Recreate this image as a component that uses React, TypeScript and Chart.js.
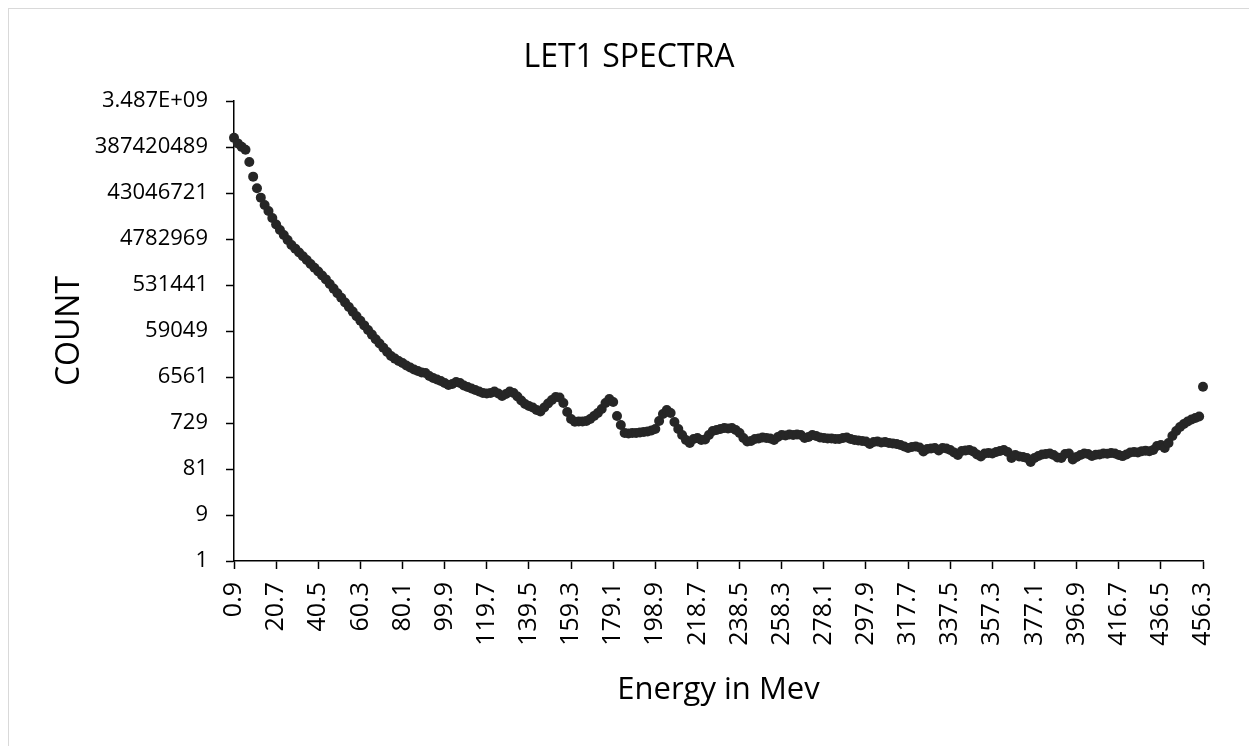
import React, { useEffect, useRef } from 'react';
import { Chart, registerables } from 'chart.js';

Chart.register(...registerables);

const energies = [
  0.9, 2.7, 4.5, 6.3, 8.1, 9.9, 11.7, 13.5, 15.3, 17.1,
  18.9, 20.7, 22.5, 24.3, 26.1, 27.9, 29.7, 31.5, 33.3, 35.1,
  36.9, 38.7, 40.5, 42.3, 44.1, 45.9, 47.7, 49.5, 51.3, 53.1,
  54.9, 56.7, 58.5, 60.3, 62.1, 63.9, 65.7, 67.5, 69.3, 71.1,
  72.9, 74.7, 76.5, 78.3, 80.1, 81.9, 83.7, 85.5, 87.3, 89.1,
  90.9, 92.7, 94.5, 96.3, 98.1, 99.9, 101.7, 103.5, 105.3, 107.1,
  108.9, 110.7, 112.5, 114.3, 116.1, 117.9, 119.7, 121.5, 123.3, 125.1,
  126.9, 128.7, 130.5, 132.3, 134.1, 135.9, 137.7, 139.5, 141.3, 143.1,
  144.9, 146.7, 148.5, 150.3, 152.1, 153.9, 155.7, 157.5, 159.3, 161.1,
  162.9, 164.7, 166.5, 168.3, 170.1, 171.9, 173.7, 175.5, 177.3, 179.1,
  180.9, 182.7, 184.5, 186.3, 188.1, 189.9, 191.7, 193.5, 195.3, 197.1,
  198.9, 200.7, 202.5, 204.3, 206.1, 207.9, 209.7, 211.5, 213.3, 215.1,
  216.9, 218.7, 220.5, 222.3, 224.1, 225.9, 227.7, 229.5, 231.3, 233.1,
  234.9, 236.7, 238.5, 240.3, 242.1, 243.9, 245.7, 247.5, 249.3, 251.1,
  252.9, 254.7, 256.5, 258.3, 260.1, 261.9, 263.7, 265.5, 267.3, 269.1,
  270.9, 272.7, 274.5, 276.3, 278.1, 279.9, 281.7, 283.5, 285.3, 287.1,
  288.9, 290.7, 292.5, 294.3, 296.1, 297.9, 299.7, 301.5, 303.3, 305.1,
  306.9, 308.7, 310.5, 312.3, 314.1, 315.9, 317.7, 319.5, 321.3, 323.1,
  324.9, 326.7, 328.5, 330.3, 332.1, 333.9, 335.7, 337.5, 339.3, 341.1,
  342.9, 344.7, 346.5, 348.3, 350.1, 351.9, 353.7, 355.5, 357.3, 359.1,
  360.9, 362.7, 364.5, 366.3, 368.1, 369.9, 371.7, 373.5, 375.3, 377.1,
  378.9, 380.7, 382.5, 384.3, 386.1, 387.9, 389.7, 391.5, 393.3, 395.1,
  396.9, 398.7, 400.5, 402.3, 404.1, 405.9, 407.7, 409.5, 411.3, 413.1,
  414.9, 416.7, 418.5, 420.3, 422.1, 423.9, 425.7, 427.5, 429.3, 431.1,
  432.9, 434.7, 436.5, 438.3, 440.1, 441.9, 443.7, 445.5, 447.3, 449.1,
  450.9, 452.7, 454.5, 456.3,
];

const counts = [
  600000000, 460000000, 390000000, 340000000, 190000000, 94000000, 54000000, 34500000, 24300000, 18200000,
  13000000, 9560000, 7350000, 5790000, 4560000, 3590000, 3020000, 2520000, 2100000, 1750000,
  1448000, 1207000, 1010000, 840000, 695000, 557000, 447000, 359000, 288000, 230000,
  185800, 149000, 119900, 96000, 77200, 61900, 49700, 39900, 32500, 26600,
  21700, 17900, 15800, 14100, 12800, 11360, 10330, 9400, 8740, 8130,
  7940, 6880, 6250, 5820, 5420, 4920, 4470, 4690, 5160, 4920,
  4370, 4070, 3790, 3520, 3280, 3050, 2980, 3050, 3280, 2980,
  2650, 2910, 3280, 3050, 2590, 2130, 1810, 1640, 1530, 1356,
  1260, 1530, 1850, 2190, 2520, 2460, 1890, 1230, 882, 776,
  784, 784, 802, 882, 1018, 1175, 1422, 1890, 2290, 1990,
  1018, 662, 452, 441, 452, 452, 463, 474, 485, 509,
  547, 802, 1120, 1356, 1175, 765, 547, 411, 323, 280,
  339, 356, 323, 331, 411, 497, 521, 547, 574, 560,
  574, 521, 452, 356, 301, 308, 339, 347, 365, 356,
  347, 323, 373, 411, 401, 421, 411, 421, 411, 356,
  373, 411, 392, 365, 356, 347, 347, 339, 339, 356,
  365, 339, 323, 316, 308, 301, 267, 294, 301, 287,
  294, 280, 274, 267, 255, 237, 221, 231, 237, 226,
  187, 210, 215, 221, 196, 221, 215, 201, 178, 158,
  191, 196, 201, 187, 162, 147, 170, 174, 170, 182,
  191, 201, 182, 137, 158, 147, 144, 137, 113, 137,
  151, 162, 166, 170, 158, 140, 137, 166, 170, 128,
  144, 158, 170, 166, 151, 160, 162, 170, 168, 174,
  170, 158, 150, 162, 178, 182, 178, 190, 194, 190,
  201, 243, 255, 221, 280, 392, 497, 602, 694, 784,
  860, 926, 994, 4126,
];

const xTickLabels = [
  '0.9', '20.7', '40.5', '60.3', '80.1', '99.9', '119.7', '139.5', '159.3', '179.1', '198.9', '218.7',
  '238.5', '258.3', '278.1', '297.9', '317.7', '337.5', '357.3', '377.1', '396.9', '416.7', '436.5', '456.3',
];

const yTickValues = [1, 9, 81, 729, 6561, 59049, 531441, 4782969, 43046721, 387420489, 3486784401];
const yTickLabels = ['1', '9', '81', '729', '6561', '59049', '531441', '4782969', '43046721', '387420489', '3.487E+09'];

const FONT = '"Open Sans", sans-serif';

export default function App() {
  const ref = useRef<HTMLCanvasElement>(null);

  useEffect(() => {
    const labels = energies.map((e) => String(e));
    const chart = new Chart(ref.current as HTMLCanvasElement, {
      type: 'line',
      data: {
        labels,
        datasets: [
          {
            data: counts,
            showLine: false,
            pointRadius: 5,
            pointHoverRadius: 5,
            pointBackgroundColor: '#262626',
            pointBorderColor: '#262626',
            pointBorderWidth: 0,
          },
        ],
      },
      options: {
        animation: false,
        responsive: false,
        maintainAspectRatio: false,
        layout: { padding: { top: 0, right: 0, bottom: 35, left: 0 } },
        plugins: {
          legend: { display: false },
          tooltip: { enabled: false },
          title: {
            display: true,
            text: 'LET1 SPECTRA',
            color: '#000',
            font: { family: FONT, size: 32, weight: 'normal' },
            padding: { top: 30, bottom: 23.6 },
          },
        },
        scales: {
          x: {
            type: 'category',
            offset: false,
            grid: {
              display: true,
              drawOnChartArea: false,
              drawTicks: true,
              tickLength: 8,
              tickWidth: 1.5,
              color: '#000',
              tickColor: (ctx: any) => (xTickLabels.includes(labels[ctx.index]) ? '#000' : 'rgba(0,0,0,0)'),
            },
            border: { display: true, color: '#000', width: 1.5 },
            ticks: {
              autoSkip: false,
              maxRotation: 90,
              minRotation: 90,
              padding: 13,
              color: '#000',
              font: { family: FONT, size: 25 },
              callback: (_v: any, i: number) => (xTickLabels.includes(labels[i]) ? labels[i] : ''),
            },
            title: {
              display: true,
              text: 'Energy in Mev',
              color: '#000',
              font: { family: FONT, size: 31 },
              padding: { top: 0, bottom: 2 },
            },
            afterFit: (s: any) => {
              s.height = 150;
            },
          },
          y: {
            type: 'logarithmic',
            min: 1,
            max: 3486784401,
            afterBuildTicks: (s: any) => {
              s.ticks = yTickValues.map((v) => ({ value: v }));
            },
            grid: {
              display: true,
              drawOnChartArea: false,
              drawTicks: true,
              tickLength: 8,
              tickWidth: 1.5,
              color: '#000',
            },
            border: { display: true, color: '#000', width: 1.5 },
            ticks: {
              padding: 18,
              color: '#000',
              font: { family: FONT, size: 22 },
              callback: (v: any) => {
                const k = yTickValues.indexOf(Number(v));
                return k >= 0 ? yTickLabels[k] : '';
              },
            },
            title: {
              display: true,
              text: 'COUNT',
              color: '#000',
              font: { family: FONT, size: 32 },
              padding: { top: 42, bottom: 0 },
            },
            afterFit: (s: any) => {
              s.width = 225;
            },
          },
          yRight: {
            type: 'linear',
            position: 'right',
            min: 0,
            max: 1,
            display: true,
            grid: { display: false, drawTicks: false },
            border: { display: false },
            ticks: { display: false },
            afterFit: (s: any) => {
              s.width = 46;
            },
          },
        },
      },
    });
    return () => chart.destroy();
  }, []);

  return (
    <div style={{ position: 'fixed', left: 0, top: 0, width: 1249, height: 746, overflow: 'hidden', background: '#fff' }}>
      <div
        style={{
          position: 'absolute',
          left: 8,
          top: 8,
          width: 1260,
          height: 760,
          border: '1px solid #d9d9d9',
        }}
      >
        <canvas ref={ref} width={1240} height={737} style={{ display: 'block' }} />
      </div>
    </div>
  );
}
